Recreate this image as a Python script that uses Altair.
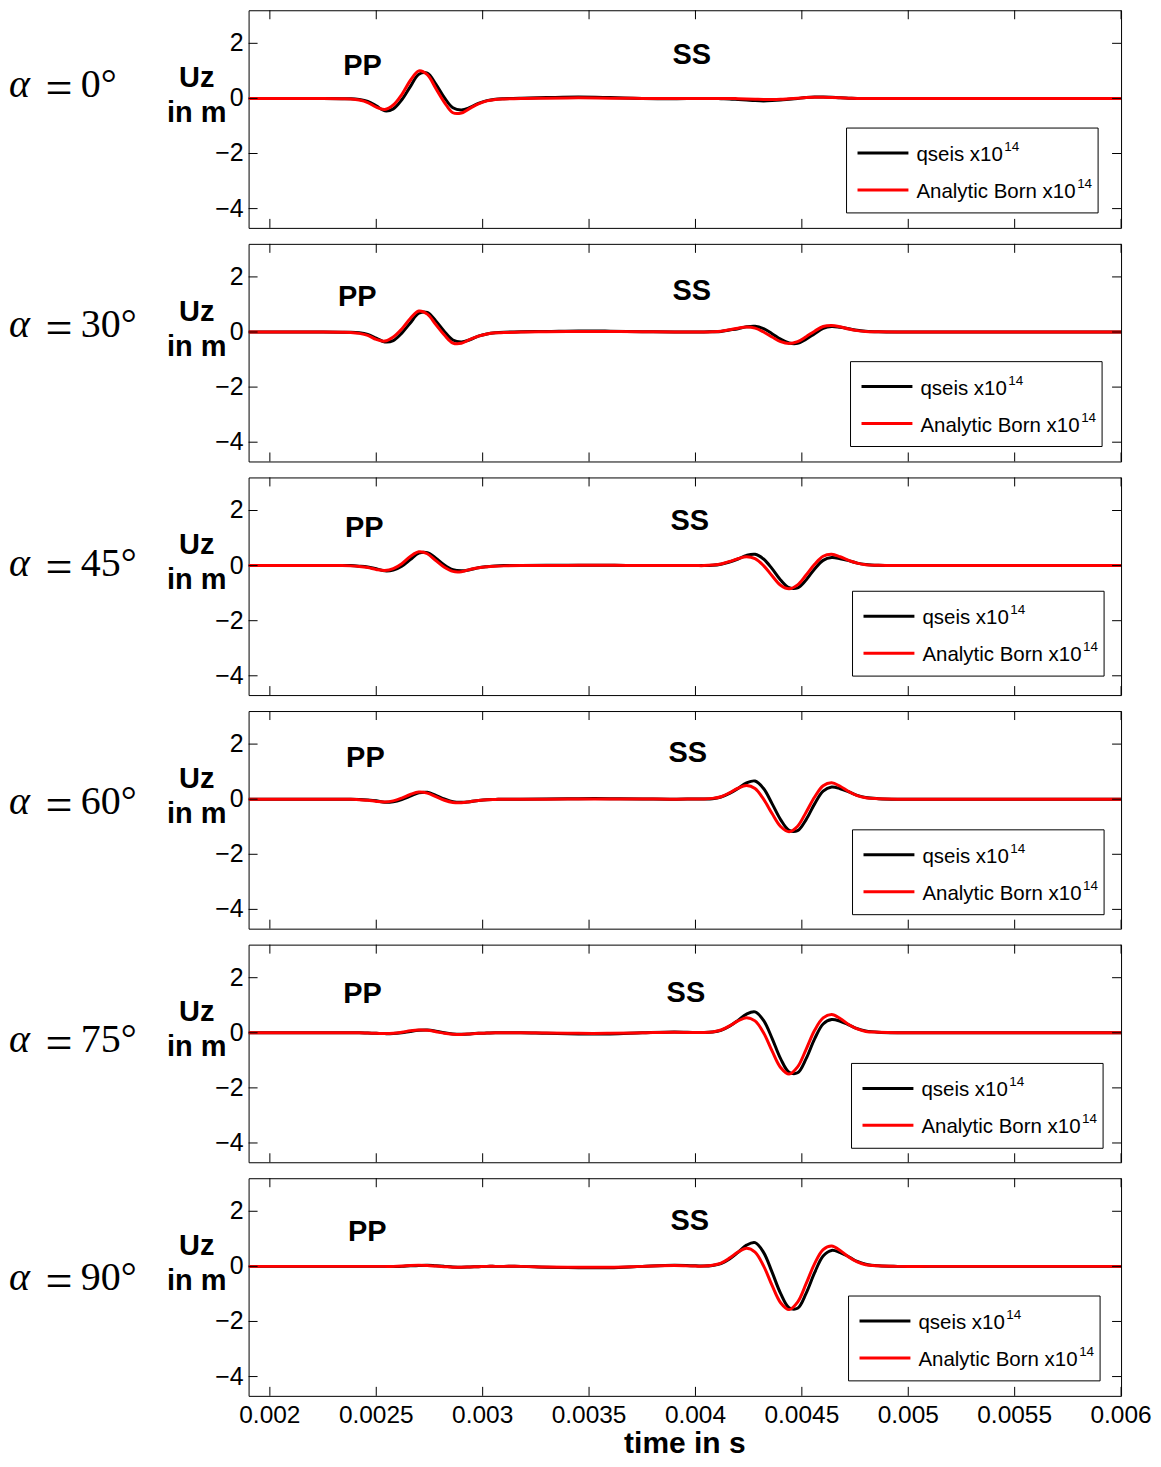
import altair as alt
import pandas as pd

# ---------------- data ----------------
time_s = [0.00190, 0.00210, 0.00225, 0.00234, 0.00238, 0.00242, 0.00246, 0.00250, 0.00254, 0.00258,
          0.00262, 0.00266, 0.00270, 0.00274, 0.00278, 0.00282, 0.00286, 0.00290, 0.00294, 0.00298,
          0.00302, 0.00306, 0.00310, 0.00318, 0.00330, 0.00345, 0.00360, 0.00375, 0.00390, 0.00400,
          0.00404, 0.00408, 0.00412, 0.00416, 0.00420, 0.00424, 0.00428, 0.00432, 0.00436, 0.00440,
          0.00444, 0.00448, 0.00452, 0.00456, 0.00460, 0.00464, 0.00468, 0.00472, 0.00476, 0.00480,
          0.00486, 0.00495, 0.00510, 0.00530, 0.00560, 0.00600]

# alpha = 0
qseis_00 = [0, 0, 0, -0.01, -0.01, -0.04, -0.11, -0.27, -0.45, -0.38,
            -0.05, 0.43, 0.88, 0.92, 0.52, 0.03, -0.34, -0.42, -0.33, -0.18,
            -0.08, -0.03, -0.01, 0.01, 0.03, 0.05, 0.03, 0.00, -0.01, 0.00,
            0.00, 0.00, -0.01, -0.02, -0.04, -0.06, -0.08, -0.09, -0.08, -0.06,
            -0.03, 0.00, 0.03, 0.05, 0.05, 0.04, 0.02, 0.01, 0.00, 0.00,
            0, 0, 0, 0, 0, 0]
born_00 = [0, 0, 0, -0.01, -0.02, -0.06, -0.15, -0.32, -0.40, -0.24,
           0.14, 0.65, 1.00, 0.86, 0.36, -0.14, -0.52, -0.53, -0.36, -0.20,
           -0.09, -0.04, -0.02, 0.00, 0.01, 0.02, 0.01, 0.00, 0.00, 0.00,
           0.00, 0.00, 0.00, 0.00, -0.01, -0.02, -0.03, -0.04, -0.04, -0.03,
           -0.01, 0.01, 0.03, 0.04, 0.04, 0.03, 0.02, 0.01, 0.00, 0.00,
           0, 0, 0, 0, 0, 0]
# alpha = 30
qseis_30 = [0, 0, 0, -0.01, -0.01, -0.03, -0.09, -0.22, -0.36, -0.31,
            -0.04, 0.33, 0.68, 0.71, 0.40, 0.02, -0.29, -0.36, -0.28, -0.15,
            -0.07, -0.03, -0.01, 0.01, 0.02, 0.04, 0.03, 0.01, 0.00, 0.00,
            0.00, 0.01, 0.02, 0.07, 0.12, 0.19, 0.21, 0.12, -0.06, -0.26,
            -0.40, -0.41, -0.26, -0.06, 0.13, 0.20, 0.17, 0.12, 0.06, 0.03,
            0.01, 0, 0, 0, 0, 0]
born_30 = [0, 0, 0, -0.01, -0.02, -0.05, -0.12, -0.27, -0.33, -0.18,
           0.11, 0.49, 0.76, 0.65, 0.27, -0.11, -0.40, -0.41, -0.27, -0.15,
           -0.07, -0.03, -0.02, 0.00, 0.01, 0.02, 0.02, 0.01, 0.00, 0.00,
           0.00, 0.01, 0.03, 0.08, 0.14, 0.18, 0.14, 0.00, -0.18, -0.35,
           -0.42, -0.35, -0.17, 0.03, 0.20, 0.24, 0.19, 0.11, 0.05, 0.02,
           0.01, 0, 0, 0, 0, 0]
# alpha = 45
qseis_45 = [0, 0, 0, 0.00, 0.00, -0.02, -0.05, -0.11, -0.19, -0.16,
            -0.02, 0.22, 0.45, 0.47, 0.27, 0.02, -0.15, -0.19, -0.15, -0.08,
            -0.04, -0.01, 0.00, 0.00, 0.01, 0.01, 0.01, 0.00, 0.00, 0.00,
            0.00, 0.01, 0.05, 0.13, 0.24, 0.37, 0.41, 0.24, -0.11, -0.52,
            -0.80, -0.81, -0.52, -0.12, 0.19, 0.29, 0.25, 0.18, 0.09, 0.04,
            0.01, 0, 0, 0, 0, 0]
born_45 = [0, 0, 0, 0.00, -0.01, -0.03, -0.07, -0.14, -0.18, -0.11,
           0.07, 0.33, 0.50, 0.43, 0.18, -0.06, -0.21, -0.22, -0.14, -0.08,
           -0.04, -0.02, -0.01, 0.00, 0.00, 0.01, 0.01, 0.00, 0.00, 0.00,
           0.00, 0.02, 0.06, 0.15, 0.25, 0.32, 0.25, 0.00, -0.37, -0.71,
           -0.84, -0.70, -0.34, 0.05, 0.34, 0.41, 0.32, 0.19, 0.09, 0.03,
           0.01, 0, 0, 0, 0, 0]
# alpha = 60
qseis_60 = [0, 0, 0, 0.00, 0.00, -0.01, -0.03, -0.06, -0.11, -0.09,
            -0.01, 0.11, 0.23, 0.25, 0.14, 0.01, -0.09, -0.11, -0.09, -0.05,
            -0.02, -0.01, 0.00, 0.00, 0.01, 0.02, 0.02, 0.01, 0.00, 0.01,
            0.01, 0.02, 0.08, 0.21, 0.39, 0.59, 0.66, 0.39, -0.16, -0.74,
            -1.13, -1.14, -0.74, -0.17, 0.29, 0.44, 0.38, 0.27, 0.14, 0.06,
            0.02, 0, 0, 0, 0, 0]
born_60 = [0, 0, 0, 0.00, 0.00, -0.02, -0.04, -0.08, -0.10, -0.06,
           0.04, 0.17, 0.26, 0.22, 0.09, -0.04, -0.12, -0.13, -0.09, -0.05,
           -0.02, -0.01, 0.00, 0.00, 0.00, 0.01, 0.01, 0.01, 0.00, 0.01,
           0.01, 0.03, 0.09, 0.23, 0.40, 0.50, 0.39, 0.00, -0.52, -0.99,
           -1.18, -0.98, -0.47, 0.08, 0.49, 0.60, 0.47, 0.28, 0.13, 0.05,
           0.02, 0, 0, 0, 0, 0]
# alpha = 75
qseis_75 = [0, 0, 0, 0.00, 0.00, 0.00, -0.01, -0.02, -0.03, -0.03,
            0.00, 0.05, 0.09, 0.10, 0.06, 0.00, -0.04, -0.05, -0.04, -0.02,
            -0.01, 0.00, 0.00, 0.00, -0.02, -0.04, -0.04, 0.00, 0.03, 0.01,
            0.01, 0.03, 0.09, 0.24, 0.45, 0.68, 0.76, 0.45, -0.20, -0.94,
            -1.43, -1.45, -0.94, -0.22, 0.32, 0.48, 0.42, 0.29, 0.15, 0.07,
            0.02, 0, 0, 0, 0, 0]
born_75 = [0, 0, 0, 0.00, 0.00, 0.00, -0.01, -0.02, -0.03, -0.02,
           0.02, 0.07, 0.10, 0.09, 0.04, -0.02, -0.05, -0.06, -0.04, -0.02,
           -0.01, 0.00, 0.00, 0.00, -0.01, -0.02, -0.02, 0.00, 0.02, 0.01,
           0.01, 0.03, 0.10, 0.25, 0.43, 0.55, 0.43, 0.00, -0.66, -1.26,
           -1.50, -1.24, -0.60, 0.09, 0.54, 0.66, 0.52, 0.30, 0.14, 0.05,
           0.02, 0, 0, 0, 0, 0]
# alpha = 90
qseis_90 = [0, 0, 0, 0, 0, 0, 0, 0, 0, 0,
            0.00, 0.02, 0.03, 0.04, 0.02, 0.00, -0.02, -0.03, -0.02, -0.01,
            0.00, 0.00, 0.00, 0.00, -0.03, -0.05, -0.05, 0.00, 0.04, 0.02,
            0.01, 0.03, 0.10, 0.27, 0.51, 0.77, 0.86, 0.51, -0.21, -0.98,
            -1.50, -1.52, -0.98, -0.23, 0.38, 0.58, 0.50, 0.35, 0.18, 0.08,
            0.02, 0, 0, 0, 0, 0]
born_90 = [0, 0, 0, 0, 0, 0, 0, 0, 0, 0,
           0.01, 0.03, 0.04, 0.03, 0.01, -0.01, -0.03, -0.03, -0.02, -0.01,
           0.00, 0.00, 0.00, 0.00, -0.02, -0.03, -0.03, 0.00, 0.03, 0.01,
           0.01, 0.04, 0.12, 0.30, 0.52, 0.66, 0.52, 0.02, -0.69, -1.32,
           -1.57, -1.30, -0.63, 0.10, 0.61, 0.74, 0.58, 0.34, 0.16, 0.06,
           0.02, 0, 0, 0, 0, 0]

angles = [0, 30, 45, 60, 75, 90]
qseis_series = [qseis_00, qseis_30, qseis_45, qseis_60, qseis_75, qseis_90]
born_series = [born_00, born_30, born_45, born_60, born_75, born_90]

phase_labels = ["PP", "SS"]
pp_time = [0.002435, 0.002411, 0.002444, 0.002449, 0.002435, 0.002458]
pp_value = [1.18, 1.28, 1.35, 1.50, 1.39, 1.24]
ss_time = [0.003983, 0.003983, 0.003973, 0.003964, 0.003955, 0.003973]
ss_value = [1.58, 1.50, 1.61, 1.68, 1.46, 1.64]

x_ticks = [0.002, 0.0025, 0.003, 0.0035, 0.004, 0.0045, 0.005, 0.0055, 0.006]
x_labels = ["0.002", "0.0025", "0.003", "0.0035", "0.004", "0.0045", "0.005", "0.0055", "0.006"]
y_ticks = [2, 0, -2, -4]
y_labels = ["2", "0", "\u22122", "\u22124"]
x_title = "time in s"
legend_names = ["qseis x10", "Analytic Born x10"]
legend_exp = "14"

# ---------------- styling ----------------
XDOM = [0.0019, 0.0060]
YDOM = [-4.7, 3.2]
W, H = 874, 218
TL = 9
FONT = "Liberation Sans"
SERIF = "Liberation Serif"
alpha_base = [87, 93, 99, 103, 108, 112]
legend_off = [(0, 0), (4, 0), (6, -4), (6, 1), (5, 1), (2, 0)]

xscale = alt.Scale(domain=XDOM, nice=False, zero=False)
yscale = alt.Scale(domain=YDOM, nice=False, zero=False)


def X(field):
    return alt.X(field, scale=xscale, axis=None)


def Y(field):
    return alt.Y(field, scale=yscale, axis=None)


def const_text(text, x, y, size, font=FONT, weight="normal", style="normal",
               align="left", baseline="alphabetic"):
    return alt.Chart(pd.DataFrame({"s": [text]})).mark_text(
        font=font, fontSize=size, fontWeight=weight, fontStyle=style,
        align=align, baseline=baseline, color="black"
    ).encode(text="s:N", x=alt.value(x), y=alt.value(y))


def panel(i, last):
    df = pd.DataFrame({"t": time_s, "q": qseis_series[i], "b": born_series[i]})
    base = alt.Chart(df)
    black = base.mark_line(color="black", strokeWidth=3, interpolate="catmull-rom", clip=True).encode(
        x=X("t:Q"), y=Y("q:Q"))
    red = base.mark_line(color="#ff0000", strokeWidth=3, interpolate="catmull-rom", clip=True).encode(
        x=X("t:Q"), y=Y("b:Q"))

    xt = alt.Chart(pd.DataFrame({"t": x_ticks, "s": x_labels}))
    yt = alt.Chart(pd.DataFrame({"v": y_ticks, "s": y_labels}))
    top_t = xt.mark_rule(color="black", strokeWidth=1).encode(
        x=X("t:Q"), y=alt.value(0), y2=alt.value(TL))
    bot_t = xt.mark_rule(color="black", strokeWidth=1).encode(
        x=X("t:Q"), y=alt.value(H - TL), y2=alt.value(H))
    left_t = yt.mark_rule(color="black", strokeWidth=1).encode(
        y=Y("v:Q"), x=alt.value(0), x2=alt.value(TL))
    right_t = yt.mark_rule(color="black", strokeWidth=1).encode(
        y=Y("v:Q"), x=alt.value(W - TL), x2=alt.value(W))
    ylab = yt.mark_text(font=FONT, fontSize=25, align="right", baseline="middle", color="black").encode(
        y=Y("v:Q"), x=alt.value(-5), text="s:N")

    ann = pd.DataFrame({"t": [pp_time[i], ss_time[i]], "v": [pp_value[i], ss_value[i]],
                        "s": phase_labels})
    ann_t = alt.Chart(ann).mark_text(font=FONT, fontSize=29, fontWeight="bold",
                                     align="center", baseline="middle", color="black").encode(
        x=X("t:Q"), y=Y("v:Q"), text="s:N")

    dx, dy = legend_off[i]
    one = alt.Chart(pd.DataFrame({"a": [0]}))
    box = one.mark_rect(fill="white", stroke="black", strokeWidth=1).encode(
        x=alt.value(599 + dx), x2=alt.value(851 + dx), y=alt.value(118 + dy), y2=alt.value(203 + dy))
    lq = one.mark_rule(color="black", strokeWidth=3).encode(
        x=alt.value(610 + dx), x2=alt.value(661 + dx), y=alt.value(143 + dy))
    lb = one.mark_rule(color="#ff0000", strokeWidth=3).encode(
        x=alt.value(610 + dx), x2=alt.value(661 + dx), y=alt.value(180 + dy))
    t1 = const_text(legend_names[0], 669 + dx, 151 + dy, 20.5)
    s1 = const_text(legend_exp, 757 + dx, 141 + dy, 13.5)
    t2 = const_text(legend_names[1], 669 + dx, 188 + dy, 20.5)
    s2 = const_text(legend_exp, 830 + dx, 178 + dy, 13.5)

    ab = alpha_base[i]
    a1 = const_text("α", -240, ab, 40, font=SERIF, style="italic")
    a2 = const_text("=", -190, ab + 7, 48, font=SERIF, align="center")
    a3 = const_text(f"{angles[i]}°", -168, ab, 40, font=SERIF)
    u1 = const_text("Uz", -52, 77, 29, weight="bold", align="center")
    u2 = const_text("in m", -52, 112, 29, weight="bold", align="center")

    layers = [black, red, top_t, bot_t, left_t, right_t, ylab, ann_t,
              box, lq, lb, t1, s1, t2, s2, a1, a2, a3, u1, u2]
    if last:
        xlab = xt.mark_text(font=FONT, fontSize=24.5, align="center", baseline="top", color="black").encode(
            x=X("t:Q"), y=alt.value(H + 8), text="s:N")
        xtit = const_text(x_title, W / 2, H + 57, 30, weight="bold", align="center")
        layers += [xlab, xtit]
    return alt.layer(*layers).properties(width=W, height=H)


panels = [panel(i, i == len(angles) - 1) for i in range(len(angles))]
chart = alt.vconcat(*panels, spacing=16, bounds="flush").properties(
    padding=0, background="white"
).configure_view(stroke="black", strokeWidth=1)

chart.save("out.html", embed_options={"renderer": "svg", "actions": False})
